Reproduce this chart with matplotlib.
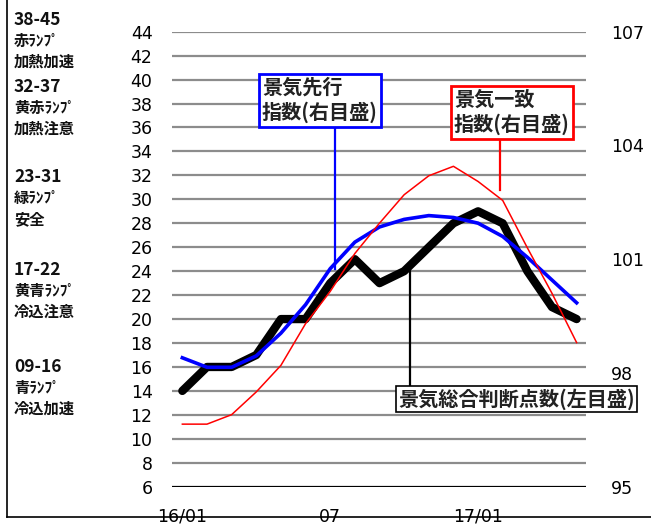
import numpy as np
import matplotlib.pyplot as plt
from matplotlib.lines import Line2D

JP = ['Noto Sans CJK JP', 'DejaVu Sans']

tick_pos = [0, 6, 12]
tick_labels = ['16/01', '07', '17/01']

# 景気総合判断点数 (left axis)
score = [14, 16, 16, 17, 20, 20, 23, 25, 23, 24, 26, 28, 29, 28, 24, 21, 20]
# 景気先行指数 (right axis)
leading = [98.4, 98.15, 98.15, 98.45, 99.05, 99.8, 100.75, 101.45, 101.85, 102.05,
           102.15, 102.1, 101.95, 101.6, 101.05, 100.45, 99.85]
# 景気一致指数 (right axis)
coincident = [96.65, 96.65, 96.9, 97.5, 98.2, 99.3, 100.15, 101.15, 101.95, 102.7,
              103.2, 103.45, 103.05, 102.55, 101.3, 100.1, 98.8]

lamp_labels = [('38-45', '赤ﾗﾝﾌﾟ', '加熱加速'),
               ('32-37', '黄赤ﾗﾝﾌﾟ', '加熱注意'),
               ('23-31', '緑ﾗﾝﾌﾟ', '安全'),
               ('17-22', '黄青ﾗﾝﾌﾟ', '冷込注意'),
               ('09-16', '青ﾗﾝﾌﾟ', '冷込加速')]
lamp_top_px = [20, 87, 177, 270, 367]

W, H = 651, 526
fig = plt.figure(figsize=(W / 100, H / 100), dpi=100)
ax = fig.add_axes([172 / W, 1 - 486.7 / H, (586 - 172) / W, (486.7 - 31.7) / H])
x = np.arange(len(score))

ax.set_xlim(-0.42, 16.38)
ax.set_ylim(6, 44)
ax.set_yticks(np.arange(6, 45, 2))
for v in np.arange(8, 45, 2):
    ax.axhline(v, color='#8c8c8c', lw=1.6, zorder=0)
ax.axhline(6, color='black', lw=1.6, zorder=0)
for s in ax.spines.values():
    s.set_visible(False)
ax.tick_params(axis='y', length=0, pad=14, labelsize=12.5)
ax.set_xticks(tick_pos)
ax.set_xticklabels(tick_labels)
ax.tick_params(axis='x', length=0, pad=15, labelsize=12.5)

ax.plot(x, score, color='black', lw=6, solid_capstyle='round', zorder=4)
# leader lines
ax.plot([6.2, 6.2], [24.2, 44 - (125.7 - 31.7) / 11.98], color='#0000ff', lw=1.6, zorder=5)
ax.plot([12.9, 12.9], [30.8, 44 - (140 - 31.7) / 11.98], color='#ff0000', lw=1.6, zorder=5)
ax.plot([9.24, 9.24], [24.3, 44 - (387 - 31.7) / 11.98], color='black', lw=1.6, zorder=5)

ax2 = ax.twinx()
ax2.set_ylim(95, 107)
ax2.set_yticks([95, 98, 101, 104, 107])
ax2.tick_params(axis='y', length=0, pad=18, labelsize=12.5)
for s in ax2.spines.values():
    s.set_visible(False)

ax2.plot(x, leading, color='#0000ff', lw=2.6, zorder=3)
ax2.plot(x, coincident, color='#ff0000', lw=1.1, zorder=4)

box_font = dict(family=JP, fontsize=14.5, weight='bold', color='#222222')
fig.text(262 / W, 1 - 100 / H, '景気先行\n指数(右目盛)', ha='left', va='center',
         linespacing=1.25, **box_font,
         bbox=dict(boxstyle='square,pad=0.15', fc='white', ec='#0000ff', lw=2))
fig.text(454 / W, 1 - 112 / H, '景気一致\n指数(右目盛)', ha='left', va='center',
         linespacing=1.25, **box_font,
         bbox=dict(boxstyle='square,pad=0.15', fc='white', ec='#ff0000', lw=2))
fig.text(398 / W, 1 - 399 / H, '景気総合判断点数(左目盛)', ha='left', va='center',
         **box_font,
         bbox=dict(boxstyle='square,pad=0.12', fc='white', ec='black', lw=1.2))

# lamp legend on the left
for (rng, lamp, note), top in zip(lamp_labels, lamp_top_px):
    fig.text(14 / W, 1 - top / H, rng, ha='left', va='center',
             family=JP, fontsize=12.5, weight='bold', color='#111111')
    for i, t in enumerate((lamp, note)):
        fig.text(14 / W, 1 - (top + (i + 1) * 21) / H, t, ha='left', va='center',
                 family=JP, fontsize=11, weight='bold', color='#111111')

# frame: left and bottom
fig.add_artist(Line2D([7 / W, 7 / W], [1 - 516.5 / H, 1], color='black', lw=1.2))
fig.add_artist(Line2D([7 / W, 1], [1 - 516.5 / H, 1 - 516.5 / H], color='black', lw=1.2))

fig.savefig('out.png', dpi=100)
